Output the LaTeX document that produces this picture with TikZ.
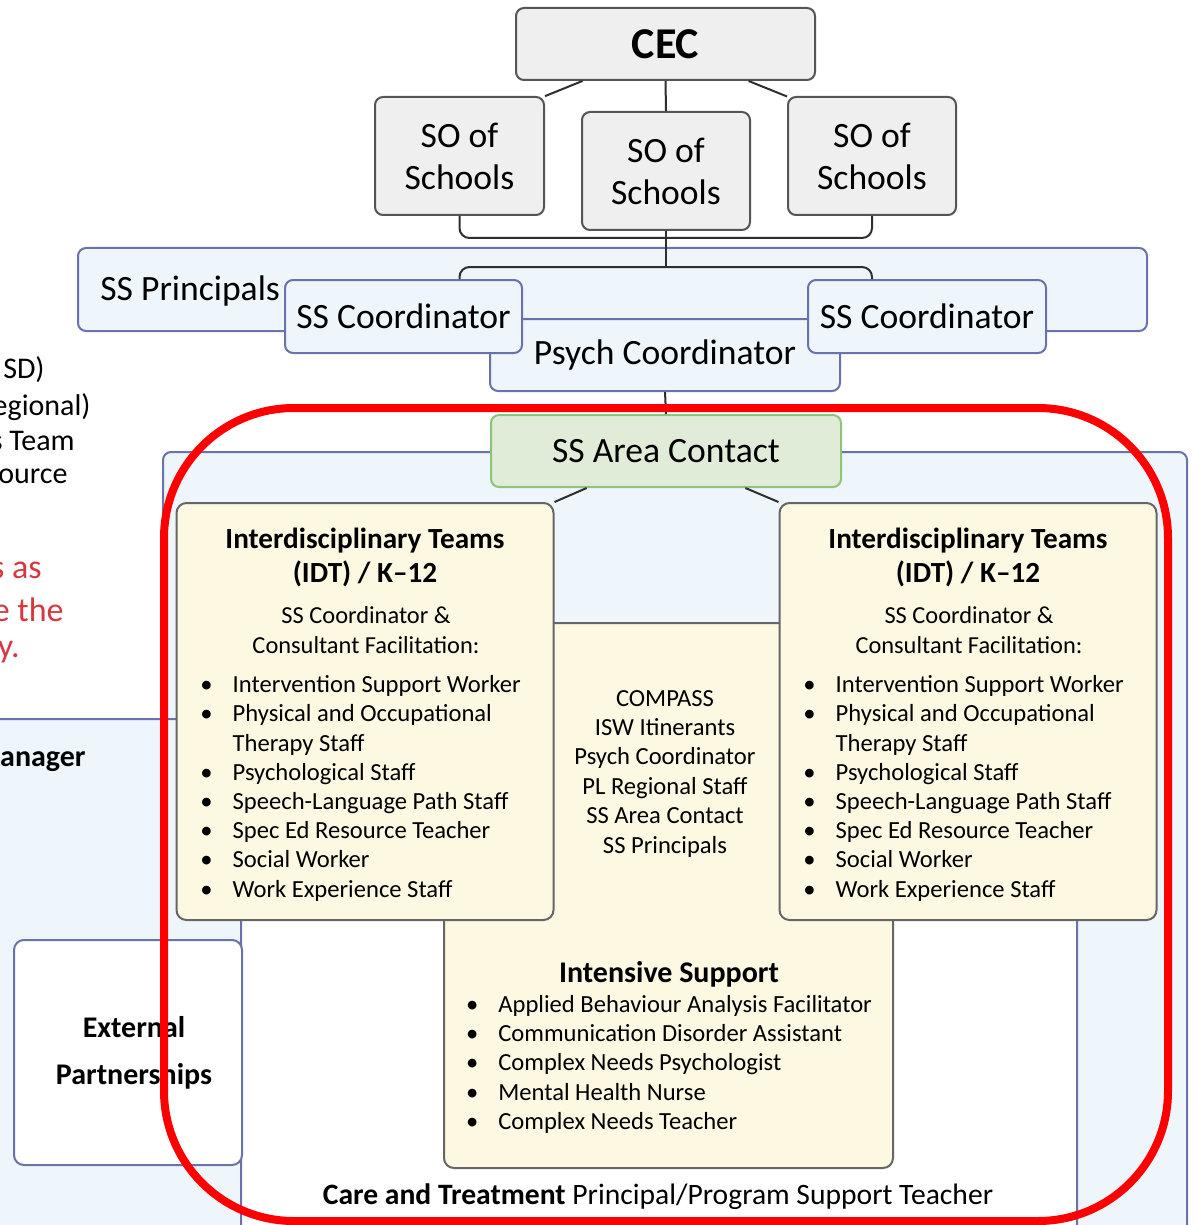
\documentclass[tikz,border=0pt]{standalone}
\usepackage{fontspec}
\setmainfont{Carlito}
\usetikzlibrary{calc}

\definecolor{grayfill}{HTML}{EFEFEF}
\definecolor{grayline}{HTML}{555555}
\definecolor{bluefill}{HTML}{EEF5FB}
\definecolor{blueline}{HTML}{6A72AC}
\definecolor{greenfill}{HTML}{E1ECD8}
\definecolor{greenline}{HTML}{8CC57A}
\definecolor{creamfill}{HTML}{FCF8E2}
\definecolor{creamline}{HTML}{666666}
\definecolor{connline}{HTML}{2E2E2E}
\definecolor{redring}{HTML}{FF0000}
\definecolor{redtext}{HTML}{D5383E}

\newcommand{\blist}[1]{\begin{tabular}{@{}l@{\hspace{10pt}}l@{}}#1\end{tabular}}

\tikzset{
  boxsize/.style 2 args={minimum width=#1*0.5pt, minimum height=#2*0.5pt},
  graybox/.style={draw=grayline, fill=grayfill, line width=1pt, rounded corners=4pt,
    inner sep=0pt, align=center, font=\fontsize{17.8}{21}\selectfont},
  bluebox/.style={draw=blueline, fill=bluefill, line width=1pt, rounded corners=4pt,
    inner sep=0pt, align=center, font=\fontsize{17.8}{21}\selectfont},
  greenbox/.style={draw=greenline, fill=greenfill, line width=1pt, rounded corners=4pt,
    inner sep=0pt, align=center, font=\fontsize{17.8}{21}\selectfont},
  creambox/.style={draw=creamline, fill=creamfill, line width=1pt, rounded corners=5pt, inner sep=0pt},
  whitebox/.style={draw=blueline, fill=white, line width=1pt, rounded corners=5pt, inner sep=0pt},
  conn/.style={draw=connline, line width=1pt},
  idthead/.style={font=\bfseries\fontsize{14.6}{17}\selectfont, align=center, inner sep=0pt},
  idtsub/.style={font=\fontsize{12.2}{15}\selectfont, align=center, inner sep=0pt},
  itemtext/.style={font=\fontsize{12.3}{14.6}\selectfont, inner sep=0pt},
  cuttext/.style={font=\fontsize{15}{17.5}\selectfont, inner sep=0pt, anchor=east},
}

\begin{document}
\begin{tikzpicture}[x=0.5pt, y=-0.5pt]
    \useasboundingbox (0,0) rectangle (1198,1225);
    \clip (0,0) rectangle (1198,1225);

    % Cut-off text on the left
    \node[cuttext] (cut1) at (45,370) {SD)};
    \node[cuttext] (cut2) at (91,407) {egional)};
    \node[cuttext] (cut3) at (75,441) {s Team};
    \node[cuttext] (cut4) at (68,476) {ource};
    \node[cuttext, text=redtext, font=\fontsize{17}{20}\selectfont] (red1) at (42,570) {s as};
    \node[cuttext, text=redtext, font=\fontsize{17}{20}\selectfont] (red2) at (64,610) {e the};
    \node[cuttext, text=redtext, font=\fontsize{17}{20}\selectfont] (red3) at (20,652) {y.};

    % Background regions
    \node[bluebox, anchor=north west, boxsize={1024}{800}] (hub) at (162,451) {};
    \node[bluebox, anchor=north west, boxsize={270}{540}] (mgr) at (-30,718) {};
    \node[cuttext, font=\bfseries\fontsize{15}{18}\selectfont] (mgrtext) at (86,762) {anager};
    \node[whitebox, anchor=north west, boxsize={836}{560}] (care) at (240,700) {};
    \node[whitebox, boxsize={228}{225}, font=\bfseries\fontsize{15}{23.5}\selectfont, align=center]
        (ext) at (128,1052.5) {\hspace*{6pt}External\\\hspace*{6pt}Partnerships};
    \node[font=\fontsize{14.8}{17}\selectfont, inner sep=0pt] (caretext) at (658,1197)
        {\textbf{Care and Treatment} Principal/Program Support Teacher};

    % Intensive support and shared staff
    \node[creambox, anchor=north west, boxsize={449}{545}] (intense) at (443,622) {};
    \node[itemtext, align=center, font=\fontsize{12.3}{14.7}\selectfont] (compass) at (665,773.5)
        {COMPASS\\ISW Itinerants\\Psych Coordinator\\PL Regional Staff\\SS Area Contact\\SS Principals};
    \node[itemtext, font=\fontsize{12.3}{14.7}\selectfont] (intensetext) at (669,1050)
        {\blist{\multicolumn{2}{c}{\bfseries\fontsize{15}{14.7}\selectfont Intensive Support}\\
        \textbullet & Applied Behaviour Analysis Facilitator\\
        \textbullet & Communication Disorder Assistant\\
        \textbullet & Complex Needs Psychologist\\
        \textbullet & Mental Health Nurse\\
        \textbullet & Complex Needs Teacher}};

    % Interdisciplinary teams
    \foreach \n/\cx in {1/365, 2/968} {
        \node[creambox, boxsize={377}{417}] (idt\n) at (\cx,711.5) {};
        \node[idthead] (idthead\n) at (\cx,557) {Interdisciplinary Teams\\(IDT) / K--12};
        \node[idtsub] (idtsub\n) at (\cx+1,630) {SS Coordinator \&\\Consultant Facilitation:};
        \node[itemtext, anchor=west] (idtlist\n) at (\cx-165,789)
            {\blist{\textbullet & Intervention Support Worker\\
            \textbullet & Physical and Occupational\\
            & Therapy Staff\\
            \textbullet & Psychological Staff\\
            \textbullet & Speech-Language Path Staff\\
            \textbullet & Spec Ed Resource Teacher\\
            \textbullet & Social Worker\\
            \textbullet & Work Experience Staff}};
    }

    % Area contact
    \node[greenbox, boxsize={350}{72}] (area) at (666,451) {SS Area Contact};

    % Top of the chart
    \node[graybox, boxsize={299}{72}, font=\bfseries\fontsize{22}{24}\selectfont] (cec) at (665.5,44) {CEC};
    \node[graybox, boxsize={169}{118}] (so1) at (459.5,156) {SO of\\Schools};
    \node[graybox, boxsize={168}{118}] (so2) at (666,171) {SO of\\Schools};
    \node[graybox, boxsize={168}{118}] (so3) at (872,156) {SO of\\Schools};

    % Support services row
    \node[bluebox, boxsize={1069}{83}] (ssp) at (612.5,289.5) {};
    \node[inner sep=0pt, anchor=west, font=\fontsize{17.8}{21}\selectfont] (ssptext) at (100,291) {SS Principals};
    \node[bluebox, boxsize={350}{72}] (psych) at (665,355) {Psych Coordinator};
    \node[bluebox, boxsize={237}{73}] (ssc1) at (403.5,316.5) {SS Coordinator};
    \node[bluebox, boxsize={238}{73}] (ssc2) at (927,316.5) {SS Coordinator};

    % Connectors
    \coordinate (jn) at (666,238);
    \coordinate (fk) at (666,267);
    \draw[conn] (cec.south) -- (so2.north);
    \draw[conn] (cec.204) -- (so1.35);
    \draw[conn] (cec.-24) -- (so3.145);
    \draw[conn, rounded corners=5pt] (so1.south) |- (jn) -| (so3.south);
    \draw[conn] (so2.south) -- (fk);
    \draw[conn, rounded corners=5pt] (so1.south |- ssc1.north) |- (fk) -| (so3.south |- ssc2.north);
    \draw[conn] (psych.south) -- (area.north);
    \draw[conn] (area.205) -- (idt1.north east);
    \draw[conn] (area.-25) -- (idt2.north west);

    % Highlight ring
    \draw[redring, line width=4pt, rounded corners=65pt] (164,408) rectangle (1168,1221);
\end{tikzpicture}
\end{document}
